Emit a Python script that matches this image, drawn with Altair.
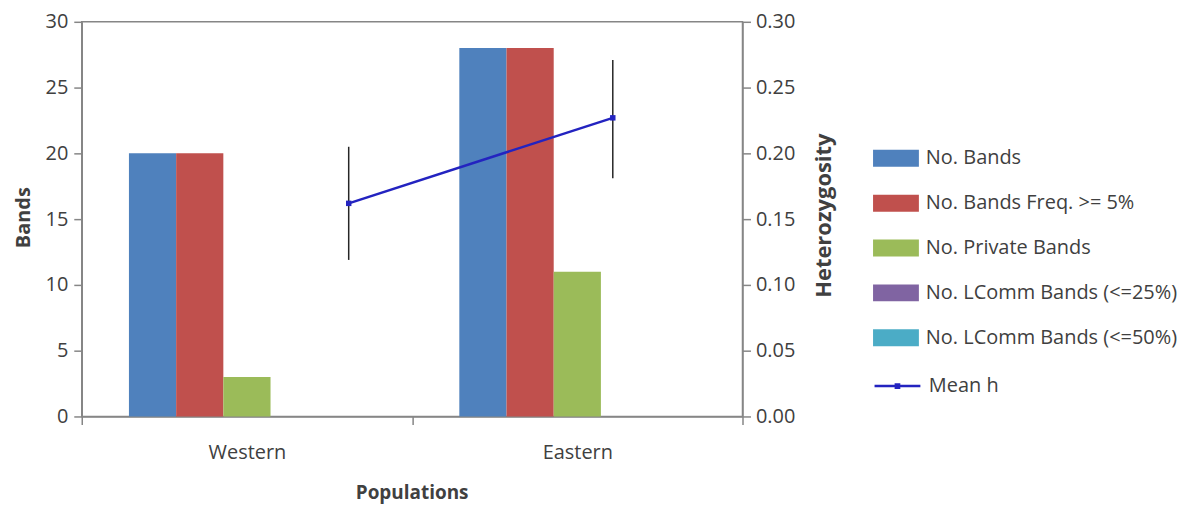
import altair as alt
import pandas as pd

populations = ["Western", "Eastern"]
series = [
    "No. Bands",
    "No. Bands Freq. >= 5%",
    "No. Private Bands",
    "No. LComm Bands (<=25%)",
    "No. LComm Bands (<=50%)",
]
bar_colors = ["#4F81BD", "#C0504D", "#9BBB59", "#8064A2", "#4BACC6"]
western_values = [20, 20, 3, 0, 0]
eastern_values = [28, 28, 11, 0, 0]

mean_h = [0.162, 0.227]
mean_h_lo = [0.119, 0.181]
mean_h_hi = [0.205, 0.271]
line_name = "Mean h"
line_color = "#2323C0"

left_ticks = [0, 5, 10, 15, 20, 25, 30]
right_ticks = [0.0, 0.05, 0.10, 0.15, 0.20, 0.25, 0.30]

rows = []
for s, w, e in zip(series, western_values, eastern_values):
    rows.append({"pop": "Western", "series": s, "value": w})
    rows.append({"pop": "Eastern", "series": s, "value": e})
bar_df = pd.DataFrame(rows)

h_df = pd.DataFrame({
    "pop": populations,
    "mean": mean_h,
    "lo": mean_h_lo,
    "hi": mean_h_hi,
    "series": [line_name] * len(populations),
})

FONT = "Open Sans"
TXT = "#404040"
AX = "#868686"

bars = alt.Chart(bar_df).mark_bar().encode(
    x=alt.X(
        "pop:N", sort=populations,
        scale=alt.Scale(paddingInner=0, paddingOuter=0),
        axis=alt.Axis(
            title="Populations", labelAngle=0, tickBand="extent",
            tickSize=8, labelPadding=18, labelFontSize=20,
            titleX=331, titleY=76, titleAlign="center", titleBaseline="middle",
            titleFontSize=19, titleFontWeight="bold",
        ),
    ),
    xOffset=alt.XOffset("series:N", sort=series,
                        scale=alt.Scale(paddingInner=0, paddingOuter=1)),
    y=alt.Y(
        "value:Q", scale=alt.Scale(domain=[0, 30]),
        axis=alt.Axis(
            title="Bands", values=left_ticks, orient="left", tickSize=8,
            labelPadding=6, labelFontSize=20,
            titleX=-58, titleY=196, titleAlign="center", titleBaseline="middle",
            titleAngle=270, titleFontSize=20, titleFontWeight="bold",
        ),
    ),
    color=alt.Color(
        "series:N", sort=series,
        scale=alt.Scale(domain=series, range=bar_colors),
        legend=alt.Legend(
            title=None, orient="none", legendX=794, legendY=114,
            symbolType="M-1,-0.37L1,-0.37L1,0.37L-1,0.37Z", symbolSize=2116,
            symbolStrokeWidth=0, labelFontSize=20, labelOffset=7,
            rowPadding=12, labelColor=TXT, labelFont=FONT, padding=0,
            labelLimit=400,
        ),
    ),
)

line_x = alt.X("pop:N", sort=populations,
               scale=alt.Scale(type="point", padding=0.751, align=0.673),
               axis=None)
right_axis = alt.Axis(
    title="Heterozygosity", values=right_ticks, format=".2f", orient="right",
    tickSize=8, labelPadding=5, labelFontSize=20,
    titleX=81, titleY=194, titleAlign="center", titleBaseline="middle",
    titleAngle=270, titleFontSize=22, titleFontWeight="bold",
)
h_scale = alt.Scale(domain=[0, 0.3])

err = alt.Chart(h_df).mark_rule(color="#262626", strokeWidth=1.5).encode(
    x=line_x,
    y=alt.Y("lo:Q", scale=h_scale, axis=right_axis),
    y2="hi:Q",
)
line = alt.Chart(h_df).mark_line(strokeWidth=2.5).encode(
    x=line_x,
    y=alt.Y("mean:Q", scale=h_scale, axis=right_axis),
    stroke=alt.Stroke(
        "series:N", scale=alt.Scale(domain=[line_name], range=[line_color]),
        legend=alt.Legend(
            title=None, orient="none", legendX=794, legendY=341,
            symbolType="M-1,0L1,0M-0.07,-0.07L0.07,-0.07L0.07,0.07L-0.07,0.07Z",
            symbolSize=2116, symbolStrokeWidth=2.5, labelFontSize=20,
            labelOffset=7, labelColor=TXT, labelFont=FONT, padding=0,
            labelLimit=400,
        ),
    ),
)
pts = alt.Chart(h_df).mark_square(size=30, color=line_color, opacity=1).encode(
    x=line_x,
    y=alt.Y("mean:Q", scale=h_scale, axis=right_axis),
)

chart = alt.layer(bars, alt.layer(err, line, pts)).resolve_scale(
    x="independent", y="independent"
).properties(
    width=663, height=396,
    autosize=alt.AutoSizeParams(type="none"),
    padding={"left": 74, "top": 13, "right": 440, "bottom": 90},
).configure(
    font=FONT,
).configure_axis(
    grid=False, domainColor=AX, tickColor=AX, domainWidth=1.5, tickWidth=1.5,
    labelColor=TXT, titleColor=TXT, labelFont=FONT, titleFont=FONT,
).configure_view(
    stroke=AX, strokeWidth=1.5,
)

chart.save("out.html", embed_options={"renderer": "svg", "actions": False})
